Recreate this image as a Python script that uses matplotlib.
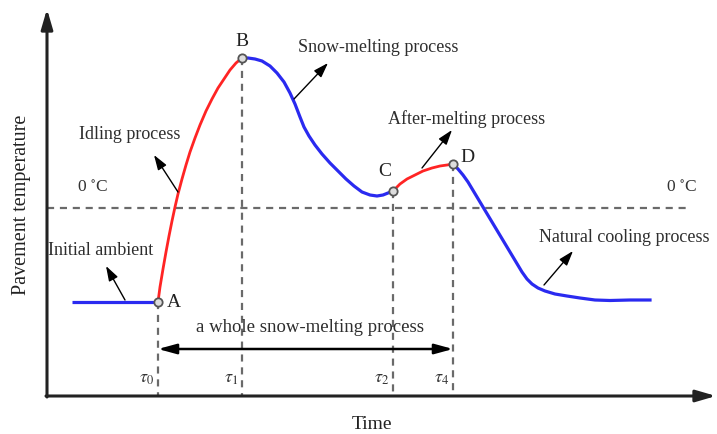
import matplotlib
matplotlib.use("Agg")
import matplotlib.pyplot as plt
import numpy as np

plt.rcParams['font.family'] = ['Liberation Serif', 'DejaVu Serif']
plt.rcParams['mathtext.fontset'] = 'stix'

# ---- data (time, pavement temperature) in drawing units (y grows downward) ----
ambient_t = [72, 158]
ambient_T = [303, 303]

idling_t = [158, 160, 163, 166, 169, 172, 175, 178, 182, 186, 190, 195, 200, 206, 212, 218, 224, 230, 236, 242]
idling_T = [303, 288, 270, 253, 237, 222, 208, 195, 180, 166, 153, 139, 126, 112, 100, 89, 80, 71, 64, 59]

melting_t = [242, 248, 255, 262, 270, 277, 284, 290, 295, 300, 304, 309, 315, 322, 330, 338, 346, 354,
             362, 370, 377, 383, 388, 393]
melting_T = [59, 59, 60, 62, 67, 74, 83, 94, 105, 118, 128, 137, 146, 155, 164, 172, 180, 187,
             193, 196, 197, 196, 194, 192]

after_t = [393, 400, 407, 415, 423, 432, 440, 447, 453]
after_T = [192, 185, 180, 176, 172, 169, 167, 166, 165]

cooling_t = [453, 458, 463, 468, 474, 480, 486, 492, 498, 504, 510, 516, 522, 527, 532, 538, 545, 555,
             567, 580, 595, 610, 630, 650]
cooling_T = [165, 170, 176, 183, 193, 203, 213, 223, 233, 243, 253, 263, 273, 280, 285, 289, 292, 295,
             297, 299, 301, 301.5, 301, 301]

point_labels = ['A', 'B', 'C', 'D']
point_t = [158, 242, 393, 453]
point_T = [303, 59, 192, 165]

tau_labels = [r'$\tau_0$', r'$\tau_1$', r'$\tau_2$', r'$\tau_4$']
zero_T = 209

fig = plt.figure(figsize=(7.17, 4.35), dpi=100)
ax = fig.add_axes([0, 0, 1, 1])
ax.set_xlim(0, 717)
ax.set_ylim(435, 0)
ax.axis('off')

dash_col = '#6a6a6a'
blue = '#2a2af0'
red = '#ff2424'

# axes with arrows
ax.annotate('', xy=(47, 10), xytext=(47, 398),
            arrowprops=dict(arrowstyle='-|>,head_length=1.2,head_width=0.35', color='#222222',
                            lw=2.2, shrinkA=0, shrinkB=0))
ax.annotate('', xy=(716, 397), xytext=(46, 397),
            arrowprops=dict(arrowstyle='-|>,head_length=1.2,head_width=0.35', color='#222222',
                            lw=2.2, shrinkA=0, shrinkB=0))

# zero line
ax.plot([47, 690], [zero_T, zero_T], ls=(0, (3.2, 2.6)), color=dash_col, lw=1.6)

# vertical dashed lines
for t, T in zip(point_t, point_T):
    ax.plot([t, t], [T, 397], ls=(0, (3.2, 2.6)), color=dash_col, lw=1.6, zorder=1)

# curves
ax.plot(ambient_t, ambient_T, color=blue, lw=2.3, solid_capstyle='butt')
ax.plot(idling_t, idling_T, color=red, lw=2.0, solid_joinstyle='round')
ax.plot(melting_t, melting_T, color=blue, lw=2.3, solid_joinstyle='round')
ax.plot(after_t, after_T, color=red, lw=2.0, solid_joinstyle='round')
ax.plot(cooling_t, cooling_T, color=blue, lw=2.3, solid_joinstyle='round')

# points
ax.plot(point_t, point_T, 'o', ms=6, mfc='#dddddd', mec='#555555', mew=1.3, zorder=5)

label_off = {'A': (16, 0), 'B': (0, -17), 'C': (-8, -20), 'D': (14, -7)}
for lab, t, T in zip(point_labels, point_t, point_T):
    dx, dy = label_off[lab]
    ax.text(t + dx, T + dy, lab, fontsize=14, ha='center', va='center', color='#222222')

# zero labels
ax.text(77, 188, r'0 $^{\circ}$C', fontsize=12.5, ha='left', va='center', color='#333333')
ax.text(666, 188, r'0 $^{\circ}$C', fontsize=12.5, ha='left', va='center', color='#333333')

# process labels with arrows
def pointer(x0, y0, x1, y1):
    ax.annotate('', xy=(x1, y1), xytext=(x0, y0),
                arrowprops=dict(arrowstyle='-|>,head_length=0.9,head_width=0.3',
                                color='black', lw=1.0, shrinkA=0, shrinkB=0))

txt_col = '#2e2e2e'
ax.text(79, 135, 'Idling process', fontsize=13, ha='left', va='center', color=txt_col)
pointer(178, 193, 154, 156)
ax.text(298, 48, 'Snow-melting process', fontsize=13, ha='left', va='center', color=txt_col)
pointer(294, 100, 328, 64)
ax.text(388, 119, 'After-melting process', fontsize=13, ha='left', va='center', color=txt_col)
pointer(422, 169, 452, 131)
ax.text(48, 251, 'Initial ambient', fontsize=13, ha='left', va='center', color=txt_col)
pointer(125, 301, 106, 267)
ax.text(539, 238, 'Natural cooling process', fontsize=13, ha='left', va='center', color=txt_col)
pointer(544, 286, 573, 252)

# whole process double arrow
ax.annotate('', xy=(158, 350), xytext=(453, 350),
            arrowprops=dict(arrowstyle='<|-|>,head_length=1.1,head_width=0.3',
                            color='black', lw=1.8, shrinkA=0, shrinkB=0))
ax.text(310, 328, 'a whole snow-melting process', fontsize=13.5, ha='center', va='center',
        color=txt_col)

# tau labels
for lab, t in zip(tau_labels, point_t):
    ax.text(t - 4, 379, lab, fontsize=13, ha='right', va='center', color='#333333')

# axis titles
ax.text(372, 425, 'Time', fontsize=14, ha='center', va='center', color='#222222')
ax.text(22, 205, 'Pavement temperature', fontsize=14.5, rotation=90, ha='center', va='center',
        color='#222222')

fig.savefig('out.png', dpi=100)
